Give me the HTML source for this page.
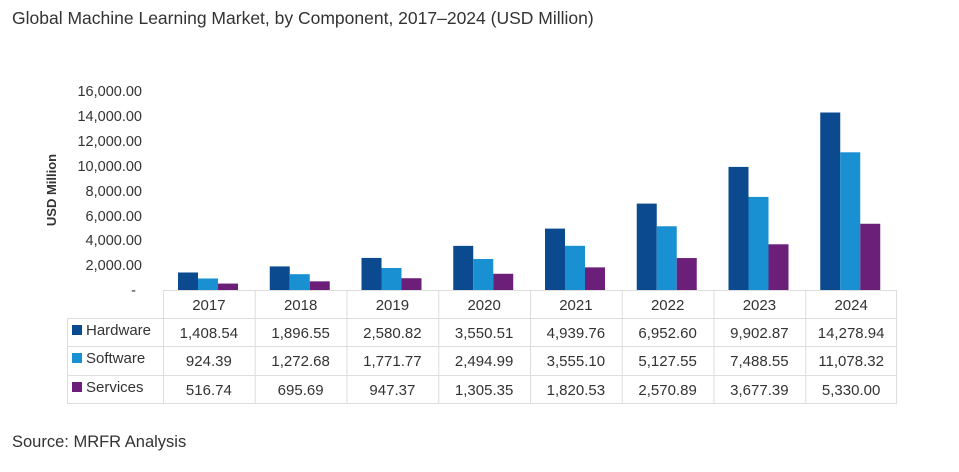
<!DOCTYPE html>
<html><head><meta charset="utf-8"><style>
body{margin:0;background:#fff;width:959px;height:467px;overflow:hidden;font-family:"Liberation Sans",sans-serif}
</style></head><body>
<svg width="959" height="467" xmlns="http://www.w3.org/2000/svg" font-family="Liberation Sans, sans-serif">
<text x="12" y="24" font-size="17.5" fill="#333">Global Machine Learning Market, by Component, 2017–2024 (USD Million)</text>
<text transform="translate(56,190) rotate(-90)" text-anchor="middle" font-size="13" font-weight="bold" fill="#333">USD Million</text>
<g font-size="14.5" fill="#333" text-anchor="end">
<text x="142" y="96">16,000.00</text>
<text x="142" y="121">14,000.00</text>
<text x="142" y="146">12,000.00</text>
<text x="142" y="171">10,000.00</text>
<text x="142" y="196">8,000.00</text>
<text x="142" y="221">6,000.00</text>
<text x="142" y="245">4,000.00</text>
<text x="142" y="270">2,000.00</text>
<text x="136" y="295">-</text>
</g>
<g id="bars"></g>
<g stroke="#ddd" stroke-width="1" fill="none">
<line x1="163" y1="290.5" x2="897" y2="290.5"/>
<line x1="67" y1="318.5" x2="897" y2="318.5"/>
<line x1="67" y1="346.5" x2="897" y2="346.5"/>
<line x1="67" y1="375.5" x2="897" y2="375.5"/>
<line x1="67" y1="403.5" x2="897" y2="403.5"/>
<line x1="67.5" y1="318" x2="67.5" y2="403"/>
</g>
<g id="tbl" font-size="15" fill="#333" text-anchor="middle"></g>
<g font-size="15" fill="#333">
<rect x="72" y="325" width="10" height="10" fill="#0b4a8e"/><text x="86" y="335">Hardware</text>
<rect x="72" y="353" width="10" height="10" fill="#1990d2"/><text x="86" y="363">Software</text>
<rect x="72" y="382" width="10" height="10" fill="#6b1f79"/><text x="86" y="392">Services</text>
</g>
<text x="12" y="447" font-size="16.5" fill="#333">Source: MRFR Analysis</text>
<script>
var yrs=[2017,2018,2019,2020,2021,2022,2023,2024];
var d=[[1408.54,924.39,516.74],[1896.55,1272.68,695.69],[2580.82,1771.77,947.37],[3550.51,2494.99,1305.35],[4939.76,3555.10,1820.53],[6952.60,5127.55,2570.89],[9902.87,7488.55,3677.39],[14278.94,11078.32,5330.00]];
var s=["1,408.54,924.39,516.74","1,896.55,1,272.68,695.69"];
var txt=[["1,408.54","924.39","516.74"],["1,896.55","1,272.68","695.69"],["2,580.82","1,771.77","947.37"],["3,550.51","2,494.99","1,305.35"],["4,939.76","3,555.10","1,820.53"],["6,952.60","5,127.55","2,570.89"],["9,902.87","7,488.55","3,677.39"],["14,278.94","11,078.32","5,330.00"]];
var cols=["#0b4a8e","#1990d2","#6b1f79"];
var ns="http://www.w3.org/2000/svg",b=document.getElementById("bars"),t=document.getElementById("tbl");
var W=(897-163)/8;
function el(n,a,p,tx){var e=document.createElementNS(ns,n);for(var k in a)e.setAttribute(k,a[k]);if(tx)e.textContent=tx;p.appendChild(e);return e;}
for(var i=0;i<8;i++){var x0=163+i*W;
for(var j=0;j<3;j++){var h=d[i][j]*0.01243;el("rect",{x:x0+15+j*20,y:290-h,width:20,height:h,fill:cols[j]},b);}
el("line",{x1:x0+0.5,y1:290,x2:x0+0.5,y2:403,stroke:"#ddd"},b.parentNode);
var cx=x0+W/2;
el("text",{x:cx,y:310},t,String(yrs[i]));
el("text",{x:cx,y:338},t,txt[i][0]);
el("text",{x:cx,y:366},t,txt[i][1]);
el("text",{x:cx,y:395},t,txt[i][2]);}
el("line",{x1:896.5,y1:290,x2:896.5,y2:403,stroke:"#ddd"},b.parentNode);
</script>
</svg>
</body></html>
